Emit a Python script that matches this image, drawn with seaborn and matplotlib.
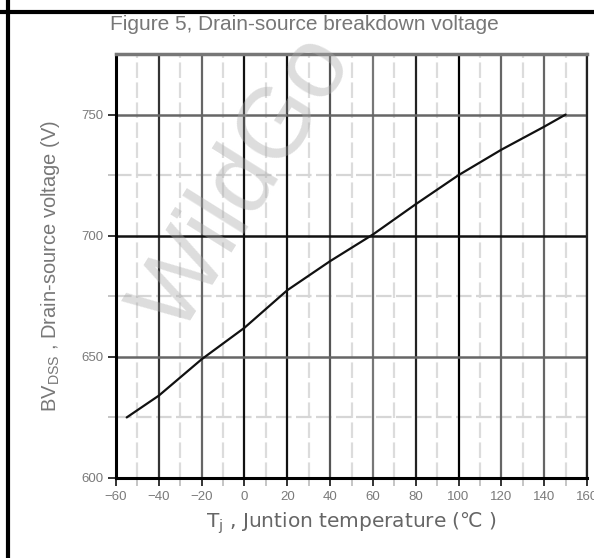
import matplotlib
matplotlib.use("Agg")
import matplotlib.pyplot as plt
import seaborn as sns
import pandas as pd
from matplotlib.lines import Line2D

temps = [-55, -40, -20, 0, 20, 40, 60, 80, 100, 120, 140, 150]
bvdss = [625, 634, 649, 662, 677.5, 689.5, 700.5, 713, 725, 735.5, 745, 750]
x_ticks = [-60, -40, -20, 0, 20, 40, 60, 80, 100, 120, 140, 160]
x_minor = [-50, -30, -10, 10, 30, 50, 70, 90, 110, 130, 150]
y_ticks = [600, 650, 700, 750]
y_minor = [625, 675, 725]

sns.set_style("white")
plt.rcParams['font.family'] = ['Liberation Sans', 'DejaVu Sans']

fig = plt.figure(figsize=(5.94, 5.58), dpi=100)
ax = fig.add_axes([116/594, 1-478/558, (587-116)/594, (478-54)/558])

df = pd.DataFrame({"T": temps, "BV": bvdss})

ax.set_xlim(-60, 160)
ax.set_ylim(600, 775)

# grid
vcols = ['#111', '#333', '#666', '#111', '#111', '#555', '#777', '#222', '#000', '#666', '#666', '#111']
for xv, c in zip(x_ticks, vcols):
    ax.axvline(xv, color=c, lw=1.6, zorder=1)
for xv in x_minor:
    ax.axvline(xv, color='#dcdcdc', lw=1.6, ls=(0, (7, 2)), zorder=0.5)
hcols = ['#111', '#666', '#111', '#666']
for yv, c in zip(y_ticks, hcols):
    ax.axhline(yv, color=c, lw=1.8, zorder=1)
for yv in y_minor:
    ax.axhline(yv, color='#d6d6d6', lw=1.6, ls=(0, (7, 2)), zorder=0.5)

sns.lineplot(data=df, x="T", y="BV", ax=ax, color='#111', lw=1.6, zorder=3)

ax.set_xticks(x_ticks)
ax.set_yticks(y_ticks)
ax.set_yticks(y_minor, minor=True)
ax.set_xticks(x_minor, minor=True)
ax.tick_params(axis='both', which='major', direction='out', length=6, width=1.4,
               color='#333', labelsize=9.5, labelcolor='#7a7a7a', pad=3, left=True, bottom=True)
ax.tick_params(axis='both', which='minor', direction='out', length=6, width=1.2,
               color='#bbb', left=True, bottom=True)

for s in ['left', 'bottom']:
    ax.spines[s].set_color('#000')
    ax.spines[s].set_linewidth(2.2)
ax.spines['right'].set_color('#222')
ax.spines['right'].set_linewidth(1.6)
ax.spines['top'].set_color('#777')
ax.spines['top'].set_linewidth(2.5)

ax.set_xlabel("T$_\\mathregular{j}$ , Juntion temperature (\u2103 )", fontsize=14.5, color='#666',
              labelpad=6, fontfamily='DejaVu Sans')
ax.set_ylabel("BV$_\\mathregular{DSS}$ , Drain-source voltage (V)", fontsize=14.5, color='#777', labelpad=14)

fig.text(304/594, 1-24/558, "Figure 5, Drain-source breakdown voltage", ha='center', va='center',
         fontsize=15, color='#777')

# frame lines
fig.add_artist(Line2D([8/594, 8/594], [0, 1], transform=fig.transFigure, color='black', lw=3))
fig.add_artist(Line2D([0, 1], [1-12/558, 1-12/558], transform=fig.transFigure, color='black', lw=3))

# watermark
fig.text(245/594, 1-185/558, "WildGo", rotation=58, ha='center', va='center', fontsize=72,
         color='#aaa', alpha=0.4, zorder=10, fontweight='light')

fig.savefig("out.png", dpi=100)
